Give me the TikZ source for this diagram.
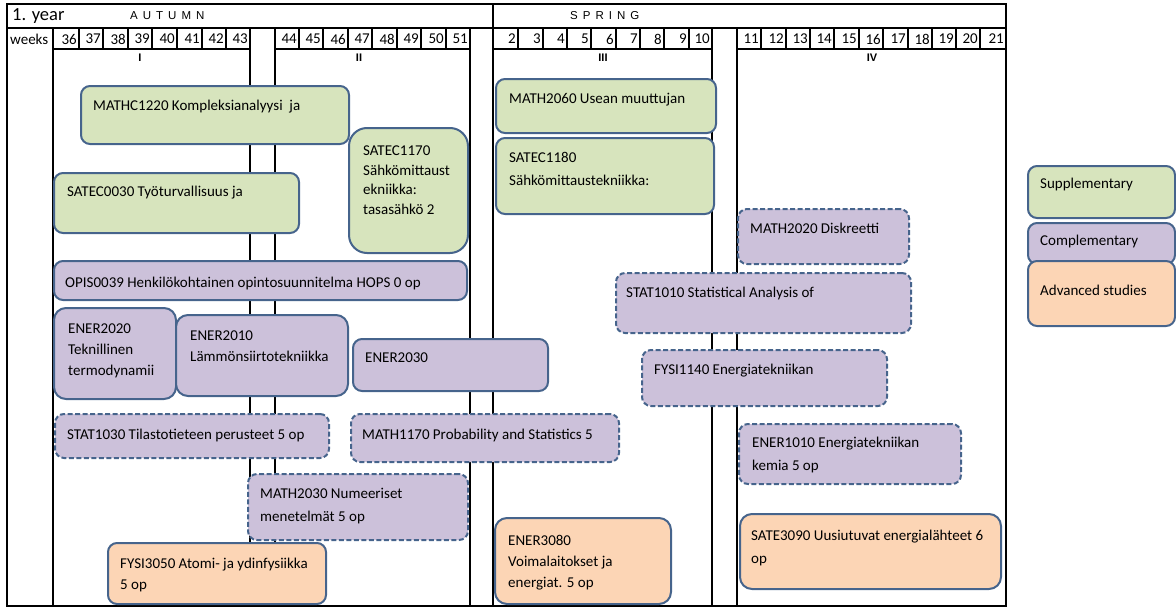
\documentclass[tikz,border=0pt]{standalone}
\usepackage{fontspec}
\setmainfont{Carlito}
\newfontfamily\headfont{Liberation Sans}
\usetikzlibrary{calc}
\definecolor{edgeblue}{RGB}{70,100,140}
\definecolor{supplgreen}{RGB}{215,228,189}
\definecolor{complpurple}{RGB}{204,193,218}
\definecolor{advorange}{RGB}{252,213,181}
\tikzset{
	frame/.style={line width=1.5pt},
	grid/.style={line width=1.3pt},
	course/.style={draw=edgeblue, line width=2pt, rounded corners=9pt, anchor=north west, inner sep=0pt},
	suppl/.style={course, fill=supplgreen},
	compl/.style={course, fill=complpurple},
	compldash/.style={compl, dash pattern=on 5pt off 2.5pt},
	adv/.style={course, fill=advorange},
	coursetext/.style={anchor=north west, align=left, inner sep=0pt, font=\fontsize{15}{21}\selectfont},
	widetext/.style={coursetext, font=\fontsize{15}{23}\selectfont},
	weeknum/.style={anchor=east, inner sep=0pt, font=\fontsize{15}{15}\selectfont},
	season/.style={anchor=west, inner sep=0pt, font=\headfont\fontsize{11.5}{11.5}\selectfont},
	period/.style={inner sep=0pt, font=\headfont\bfseries\fontsize{11}{11}\selectfont}
}

\begin{document}
\begin{tikzpicture}[x=1pt,y=-1pt]
    \useasboundingbox (0,0) rectangle (1176,608);
    % table frame
    \draw[frame] (7,4) rectangle (1006,606);
    \draw[frame] (7,28) -- (1006,28);
    \draw[frame] (493,4) -- (493,606);
    % columns
    \draw[grid] (53,28) -- (53,606);
    \draw[grid] (250,28) -- (250,606);
    \draw[grid] (275,28) -- (275,606);
    \draw[grid] (470,28) -- (470,606);
    \draw[grid] (712,28) -- (712,606);
    \draw[grid] (737,28) -- (737,606);
    % bottom of the weeks row
    \draw[grid] (53,49) -- (250,49);
    \draw[grid] (275,49) -- (470,49);
    \draw[grid] (493,49) -- (712,49);
    \draw[grid] (737,49) -- (1006,49);
    % week cells
    \draw[grid] (79,28) -- (79,49) (103,28) -- (103,49) (128,28) -- (128,49) (152,28) -- (152,49)
        (177,28) -- (177,49) (202,28) -- (202,49) (226,28) -- (226,49);
    \draw[grid] (299,28) -- (299,49) (323,28) -- (323,49) (348,28) -- (348,49) (372,28) -- (372,49)
        (397,28) -- (397,49) (421,28) -- (421,49) (446,28) -- (446,49);
    \draw[grid] (518,28) -- (518,49) (543,28) -- (543,49) (567,28) -- (567,49) (591,28) -- (591,49)
        (616,28) -- (616,49) (640,28) -- (640,49) (664,28) -- (664,49) (689,28) -- (689,49);
    \draw[grid] (761,28) -- (761,49) (786,28) -- (786,49) (810,28) -- (810,49) (834,28) -- (834,49)
        (859,28) -- (859,49) (883,28) -- (883,49) (908,28) -- (908,49) (932,28) -- (932,49)
        (956,28) -- (956,49) (980,28) -- (980,49);

    % header
    \node[anchor=west, inner sep=0pt, font=\fontsize{18.5}{18.5}\selectfont] (year) at (12,16) {1. year};
    \node[season] (autumn) at (130,16) {\spaceskip=5pt A U T U M N};
    \node[season] (spring) at (570,16) {\spaceskip=5pt S P R I N G};
    \node[anchor=west, inner sep=0pt, font=\fontsize{15}{15}\selectfont] (weeks) at (10,39) {weeks};
    \node[period] (p1) at (140,58) {I};
    \node[period] (p2) at (359,58) {II};
    \node[period] (p3) at (603,58) {III};
    \node[period] (p4) at (872,58) {IV};

    % week numbers
    \node[weeknum] (w36) at (77,39) {36};
    \node[weeknum] (w37) at (101,39) {37};
    \node[weeknum] (w38) at (126,39) {38};
    \node[weeknum] (w39) at (150,39) {39};
    \node[weeknum] (w40) at (175,39) {40};
    \node[weeknum] (w41) at (200,39) {41};
    \node[weeknum] (w42) at (224,39) {42};
    \node[weeknum] (w43) at (248,39) {43};
    \node[weeknum] (w44) at (297,39) {44};
    \node[weeknum] (w45) at (321,39) {45};
    \node[weeknum] (w46) at (346,39) {46};
    \node[weeknum] (w47) at (370,39) {47};
    \node[weeknum] (w48) at (395,39) {48};
    \node[weeknum] (w49) at (419,39) {49};
    \node[weeknum] (w50) at (444,39) {50};
    \node[weeknum] (w51) at (468,39) {51};
    \node[weeknum] (w2) at (516,39) {2};
    \node[weeknum] (w3) at (541,39) {3};
    \node[weeknum] (w4) at (565,39) {4};
    \node[weeknum] (w5) at (589,39) {5};
    \node[weeknum] (w6) at (614,39) {6};
    \node[weeknum] (w7) at (638,39) {7};
    \node[weeknum] (w8) at (662,39) {8};
    \node[weeknum] (w9) at (687,39) {9};
    \node[weeknum] (w10) at (710,39) {10};
    \node[weeknum] (w11) at (759,39) {11};
    \node[weeknum] (w12) at (784,39) {12};
    \node[weeknum] (w13) at (808,39) {13};
    \node[weeknum] (w14) at (832,39) {14};
    \node[weeknum] (w15) at (857,39) {15};
    \node[weeknum] (w16) at (881,39) {16};
    \node[weeknum] (w17) at (906,39) {17};
    \node[weeknum] (w18) at (930,39) {18};
    \node[weeknum] (w19) at (954,39) {19};
    \node[weeknum] (w20) at (978,39) {20};
    \node[weeknum] (w21) at (1004,39) {21};

    % autumn courses
    \node[suppl, minimum width=268, minimum height=58] (mathc1220) at (80,85) {};
    \node[coursetext] (mathc1220-txt) at (93,100) {MATHC1220 Kompleksianalyysi\ \ ja};
    \node[suppl, rounded corners=18pt, minimum width=119, minimum height=125] (satec1170) at (348,127) {};
    \node[coursetext, font=\fontsize{15}{19.5}\selectfont] (satec1170-txt) at (363,146) {SATEC1170\\Sähkömittaust\\ekniikka:\\tasasähkö 2};
    \node[suppl, minimum width=245, minimum height=60] (satec0030) at (53,172) {};
    \node[coursetext] (satec0030-txt) at (67,186) {SATEC0030 Työturvallisuus ja};
    \node[compl, minimum width=413, minimum height=39] (opis0039) at (53,260) {};
    \node[coursetext] (opis0039-txt) at (65,277) {OPIS0039 Henkilökohtainen opintosuunnitelma HOPS 0 op};
    \node[compl, rounded corners=12pt, minimum width=122, minimum height=91] (ener2020) at (53,307) {};
    \node[coursetext] (ener2020-txt) at (68,324) {ENER2020\\Teknillinen\\termodynamii};
    \node[compl, rounded corners=12pt, minimum width=172, minimum height=81] (ener2010) at (175,314) {};
    \node[coursetext] (ener2010-txt) at (190,331) {ENER2010\\Lämmönsiirtotekniikka};
    \node[compl, minimum width=195, minimum height=52] (ener2030) at (352,338) {};
    \node[coursetext] (ener2030-txt) at (365,353) {ENER2030};
    \node[compldash, minimum width=274, minimum height=44] (stat1030) at (54,413) {};
    \node[coursetext] (stat1030-txt) at (67,429) {STAT1030 Tilastotieteen perusteet 5 op};
    \node[compldash, minimum width=268, minimum height=48] (math1170) at (350,413) {};
    \node[coursetext] (math1170-txt) at (362,429) {MATH1170 Probability and Statistics 5};
    \node[compldash, minimum width=220, minimum height=66] (math2030) at (247,473) {};
    \node[widetext] (math2030-txt) at (260,488) {MATH2030 Numeeriset\\menetelmät 5 op};
    \node[adv, minimum width=218, minimum height=61] (fysi3050) at (107,542) {};
    \node[coursetext] (fysi3050-txt) at (120,558) {FYSI3050 Atomi- ja ydinfysiikka\\5 op};

    % spring courses
    \node[suppl, minimum width=220, minimum height=54] (math2060) at (495,78) {};
    \node[coursetext] (math2060-txt) at (509,93) {MATH2060 Usean muuttujan};
    \node[suppl, minimum width=218, minimum height=76] (satec1180) at (495,137) {};
    \node[widetext] (satec1180-txt) at (509,152) {SATEC1180\\Sähkömittaustekniikka:};
    \node[compldash, minimum width=171, minimum height=55] (math2020) at (737,208) {};
    \node[coursetext] (math2020-txt) at (750,223) {MATH2020 Diskreetti};
    \node[compldash, minimum width=295, minimum height=60] (stat1010) at (615,272) {};
    \node[coursetext] (stat1010-txt) at (626,287) {STAT1010 Statistical Analysis of};
    \node[compldash, minimum width=245, minimum height=56] (fysi1140) at (641,349) {};
    \node[coursetext] (fysi1140-txt) at (654,364) {FYSI1140 Energiatekniikan};
    \node[compldash, minimum width=222, minimum height=60] (ener1010) at (738,423) {};
    \node[widetext] (ener1010-txt) at (752,437) {ENER1010 Energiatekniikan\\kemia 5 op};
    \node[adv, rounded corners=12pt, minimum width=176, minimum height=86] (ener3080) at (494,517) {};
    \node[coursetext] (ener3080-txt) at (508,535) {ENER3080\\Voimalaitokset ja\\energiat. 5 op};
    \node[adv, rounded corners=12pt, minimum width=261, minimum height=75] (sate3090) at (739,513) {};
    \node[widetext] (sate3090-txt) at (751,530) {SATE3090 Uusiutuvat energialähteet 6\\op};

    % legend
    \node[suppl, minimum width=147, minimum height=52] (legsuppl) at (1027,165) {};
    \node[coursetext] (legsuppl-txt) at (1040,178) {Supplementary};
    \node[compl, minimum width=147, minimum height=41] (legcompl) at (1027,222) {};
    \node[coursetext] (legcompl-txt) at (1040,235) {Complementary};
    \node[adv, minimum width=147, minimum height=65] (legadv) at (1027,260) {};
    \node[coursetext] (legadv-txt) at (1040,285) {Advanced studies};
\end{tikzpicture}
\end{document}
